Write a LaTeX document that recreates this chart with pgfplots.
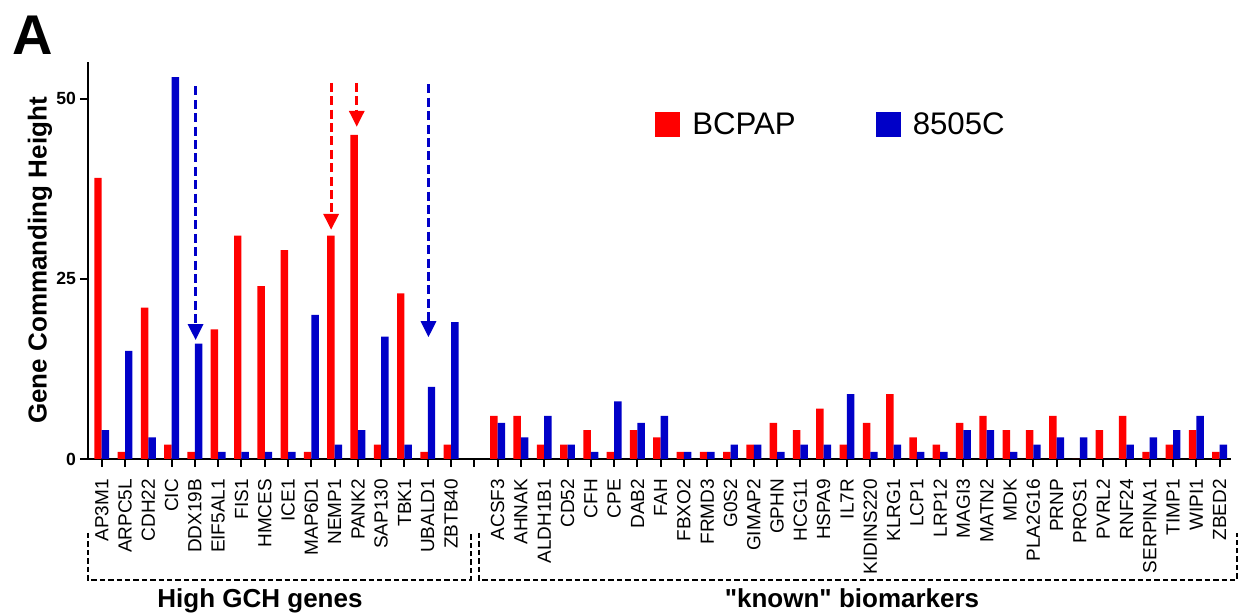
\documentclass[border=0pt]{standalone}
\usepackage{fontspec}
\setmainfont{Liberation Sans}
\newfontfamily\qfont{Liberation Sans}
\usepackage{pgfplots}
\pgfplotsset{compat=1.18}
\usepackage{pgfplotstable}
\usetikzlibrary{arrows.meta}
\definecolor{cred}{RGB}{255,0,0}
\definecolor{cblue}{RGB}{0,0,200}

\pgfplotstableread{
x gene bcpap c8505
0 AP3M1 39 4
1 ARPC5L 1 15
2 CDH22 21 3
3 CIC 2 53
4 DDX19B 1 16
5 EIF5AL1 18 1
6 FIS1 31 1
7 HMCES 24 1
8 ICE1 29 1
9 MAP6D1 1 20
10 NEMP1 31 2
11 PANK2 45 4
12 SAP130 2 17
13 TBK1 23 2
14 UBALD1 1 10
15 ZBTB40 2 19
17 ACSF3 6 5
18 AHNAK 6 3
19 ALDH1B1 2 6
20 CD52 2 2
21 CFH 4 1
22 CPE 1 8
23 DAB2 4 5
24 FAH 3 6
25 FBXO2 1 1
26 FRMD3 1 1
27 G0S2 1 2
28 GIMAP2 2 2
29 GPHN 5 1
30 HCG11 4 2
31 HSPA9 7 2
32 IL7R 2 9
33 KIDINS220 5 1
34 KLRG1 9 2
35 LCP1 3 1
36 LRP12 2 1
37 MAGI3 5 4
38 MATN2 6 4
39 MDK 4 1
40 PLA2G16 4 2
41 PRNP 6 3
42 PROS1 0 3
43 PVRL2 4 0
44 RNF24 6 2
45 SERPINA1 1 3
46 TIMP1 2 4
47 WIPI1 4 6
48 ZBED2 1 2
}\datatab

\begin{document}
\begin{tikzpicture}
\useasboundingbox (0,0) rectangle (622pt,307pt);
\begin{axis}[
  at={(44pt,77.5pt)}, anchor=south west, scale only axis,
  width=571.5pt, height=198.5pt,
  xmin=-0.59, xmax=48.49, ymin=0, ymax=55.1,
  axis x line*=bottom, axis y line*=left,
  axis line style={line width=1pt,-},
  ytick={0,25,50}, xtick={0,...,48},
  xticklabels={AP3M1,ARPC5L,CDH22,CIC,DDX19B,EIF5AL1,FIS1,HMCES,ICE1,MAP6D1,NEMP1,PANK2,SAP130,TBK1,UBALD1,ZBTB40,,ACSF3,AHNAK,ALDH1B1,CD52,CFH,CPE,DAB2,FAH,FBXO2,FRMD3,G0S2,GIMAP2,GPHN,HCG11,HSPA9,IL7R,KIDINS220,KLRG1,LCP1,LRP12,MAGI3,MATN2,MDK,PLA2G16,PRNP,PROS1,PVRL2,RNF24,SERPINA1,TIMP1,WIPI1,ZBED2},
  tick align=outside, major tick length=4pt,
  tick style={line width=1pt, black},
  xticklabel shift=2.5pt,
  yticklabel shift=-1.5pt,
  xticklabel style={rotate=90, anchor=east, font=\fontsize{9.5}{10}\selectfont},
  yticklabel style={font=\bfseries\fontsize{8.8}{10}\selectfont},
  /pgf/number format/assume math mode=true,
  ylabel={Gene Commanding Height},
  ylabel style={font=\bfseries\fontsize{13}{15}\selectfont, at={(axis description cs:-0.042,0.5)}, anchor=center},
  clip=false,
  legend columns=2,
  legend style={at={(axis description cs:0.496,0.842)}, anchor=west, draw=none, fill=none,
    font=\fontsize{15.6}{18}\selectfont, inner sep=0pt,
    /tikz/every odd column/.append style={column sep=4pt},
    /tikz/every even column/.append style={column sep=38pt}},
]
\addplot[ybar, bar width=0.32, bar shift=-0.16, fill=cred, draw=none,
  legend image code/.code={\fill[cred] (0pt,-6.25pt) rectangle (12.5pt,6.25pt);}]
  table[x=x,y=bcpap]{\datatab};
\addlegendentry{BCPAP}
\addplot[ybar, bar width=0.32, bar shift=0.16, fill=cblue, draw=none,
  legend image code/.code={\fill[cblue] (0pt,-6.25pt) rectangle (12.5pt,6.25pt);}]
  table[x=x,y=c8505]{\datatab};
\addlegendentry{8505C}
\draw[cblue, line width=1.6pt, dash pattern=on 4.5pt off 2.2pt, -{Triangle[width=7.5pt,length=8pt]}] (axis cs:4.03,51.7) -- (axis cs:4.03,16.5);
\draw[cred, line width=1.6pt, dash pattern=on 4.5pt off 2.2pt, -{Triangle[width=7.5pt,length=8pt]}] (axis cs:9.85,52.2) -- (axis cs:9.85,31.8);
\draw[cred, line width=1.6pt, dash pattern=on 4.5pt off 2.2pt, -{Triangle[width=7.5pt,length=8pt]}] (axis cs:10.95,52.2) -- (axis cs:10.95,46.1);
\draw[cblue, line width=1.6pt, dash pattern=on 4.5pt off 2.2pt, -{Triangle[width=7.5pt,length=8pt]}] (axis cs:14.03,52) -- (axis cs:14.03,16.9);
\end{axis}
\draw[line width=1pt, dash pattern=on 2.7pt off 1.5pt] (44pt,40.5pt) -- (44pt,17pt) -- (235.5pt,17pt) -- (235.5pt,40.5pt);
\draw[line width=1pt, dash pattern=on 2.7pt off 1.5pt] (239.5pt,40.5pt) -- (239.5pt,17pt) -- (618.5pt,17pt) -- (618.5pt,40.5pt);
\node[anchor=base, inner sep=0pt, font=\bfseries\fontsize{13}{15}\selectfont] at (130pt,3pt) {High GCH genes};
\node[anchor=base, inner sep=0pt, font=\qfont\bfseries\fontsize{13}{15}\selectfont] at (426pt,3pt) {"known" biomarkers};
\node[anchor=base west, inner sep=0pt, font=\bfseries\fontsize{28}{32}\selectfont] at (6pt,279.5pt) {A};
\end{tikzpicture}
\end{document}
